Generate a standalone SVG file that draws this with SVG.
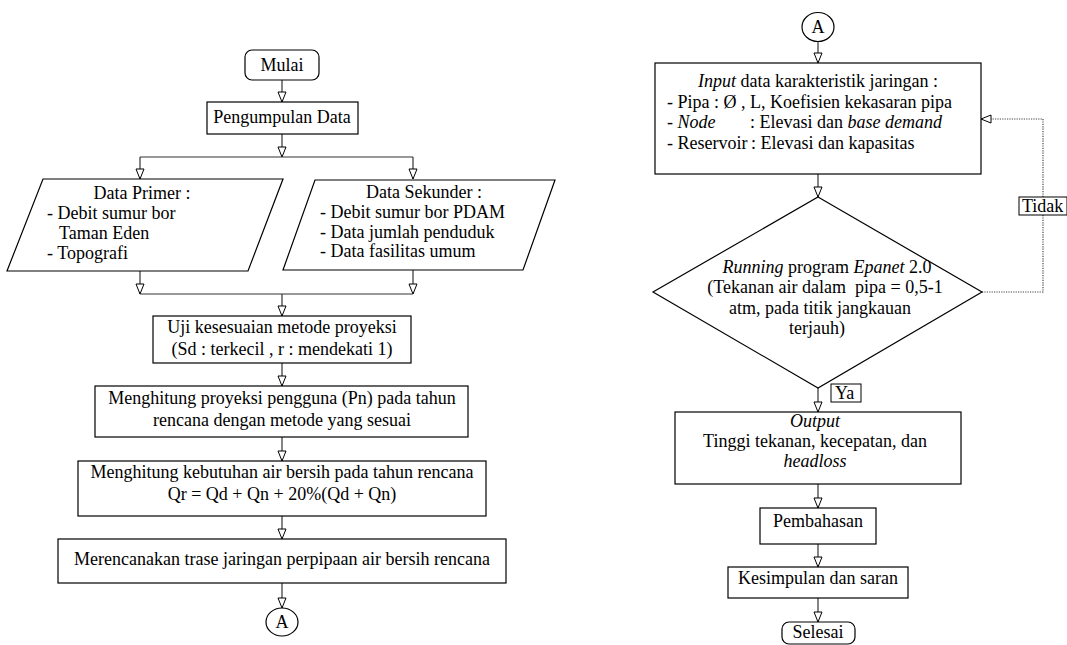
<svg xmlns="http://www.w3.org/2000/svg" width="1067" height="645" viewBox="0 0 1067 645" font-family="'Liberation Serif', Tinos, 'Times New Roman', Times, 'DejaVu Serif', serif">
<defs>
<marker id="ah" markerWidth="12" markerHeight="10" refX="10" refY="4" orient="auto" markerUnits="userSpaceOnUse" overflow="visible">
<path d="M0,0 L10,4 L0,8 z" fill="#fff" stroke="#000" stroke-width="1"/>
</marker>
</defs>
<style>
text{font-family:'Liberation Serif',Tinos,'Times New Roman',Times,'DejaVu Serif',serif;font-size:18px;fill:#000}
.c{text-anchor:middle}
.i{font-style:italic}
.box{fill:#fff;stroke:#000;stroke-width:1.2}
.ln{fill:none;stroke:#333;stroke-width:1.2}
.dot{fill:none;stroke:#444;stroke-width:1.2;stroke-dasharray:1.2,1.2}
.lbl{fill:#fff;stroke:#000;stroke-width:1}
</style>
<rect width="1067" height="645" fill="#fff"/>

<g id="connectors">
<path class="ln" d="M282,80 V102" marker-end="url(#ah)"/>
<path class="ln" d="M282,134 V157" marker-end="url(#ah)"/>
<path class="ln" d="M140,157 H413"/>
<path class="ln" d="M140,157 V179" marker-end="url(#ah)"/>
<path class="ln" d="M413,157 V179" marker-end="url(#ah)"/>
<path class="ln" d="M140,271 V294" marker-end="url(#ah)"/>
<path class="ln" d="M413,270 V294" marker-end="url(#ah)"/>
<path class="ln" d="M140,294 H413"/>
<path class="ln" d="M282,294 V316" marker-end="url(#ah)"/>
<path class="ln" d="M282,363 V386" marker-end="url(#ah)"/>
<path class="ln" d="M282,437 V461" marker-end="url(#ah)"/>
<path class="ln" d="M282,516 V539" marker-end="url(#ah)"/>
<path class="ln" d="M282,583 V608" marker-end="url(#ah)"/>
<path class="ln" d="M818,41 V63" marker-end="url(#ah)"/>
<path class="ln" d="M818,174 V197" marker-end="url(#ah)"/>
<path class="ln" d="M818,388 V412" marker-end="url(#ah)"/>
<path class="ln" d="M818,484 V508" marker-end="url(#ah)"/>
<path class="ln" d="M818,544 V567" marker-end="url(#ah)"/>
<path class="ln" d="M818,598 V622" marker-end="url(#ah)"/>
<path class="dot" d="M982,292 H1043 V119 H981" marker-end="url(#ah)"/>
<rect class="lbl" x="1019" y="197" width="48" height="18"/>
<text x="1022" y="212">Tidak</text>
<rect class="lbl" x="831" y="384" width="30" height="18"/>
<text x="835" y="399">Ya</text>
</g>

<g id="mulai">
<rect class="box" x="245" y="50" width="74" height="30" rx="7"/>
<text class="c" x="282" y="71">Mulai</text>
</g>
<g id="pengumpulan">
<rect class="box" x="207" y="102" width="151" height="32"/>
<text class="c" x="282" y="123">Pengumpulan Data</text>
</g>
<g id="data-primer">
<polygon class="box" points="43,179 283,179 248,271 7,271"/>
<text class="c" x="142" y="199">Data Primer :</text>
<text x="47" y="219">- Debit sumur bor</text>
<text x="59" y="239">Taman Eden</text>
<text x="47" y="259">- Topografi</text>
</g>
<g id="data-sekunder">
<polygon class="box" points="315,180 555,180 523,270 283,270"/>
<text class="c" x="424" y="198">Data Sekunder :</text>
<text x="320" y="218">- Debit sumur bor PDAM</text>
<text x="320" y="238">- Data jumlah penduduk</text>
<text x="320" y="257">- Data fasilitas umum</text>
</g>
<g id="uji">
<rect class="box" x="153" y="316" width="258" height="47"/>
<text class="c" x="282" y="333">Uji kesesuaian metode proyeksi</text>
<text class="c" x="282" y="355">(Sd : terkecil , r : mendekati 1)</text>
</g>
<g id="proyeksi">
<rect class="box" x="95" y="386" width="373" height="51"/>
<text class="c" x="282" y="404">Menghitung proyeksi pengguna (Pn) pada tahun</text>
<text class="c" x="282" y="426">rencana dengan metode yang sesuai</text>
</g>
<g id="kebutuhan">
<rect class="box" x="78" y="461" width="408" height="55"/>
<text class="c" x="282" y="478">Menghitung kebutuhan air bersih pada tahun rencana</text>
<text class="c" x="282" y="500">Qr = Qd + Qn + 20%(Qd + Qn)</text>
</g>
<g id="merencanakan">
<rect class="box" x="58" y="539" width="448" height="44"/>
<text class="c" x="282" y="565">Merencanakan trase jaringan perpipaan air bersih rencana</text>
</g>
<g id="connector-a1">
<ellipse class="box" cx="282" cy="622" rx="16" ry="14"/>
<text class="c" x="282" y="628">A</text>
</g>

<g id="connector-a2">
<ellipse class="box" cx="818" cy="27" rx="16" ry="14.5"/>
<text class="c" x="818" y="33">A</text>
</g>
<g id="input">
<rect class="box" x="655" y="63" width="326" height="111"/>
<text x="698" y="87"><tspan class="i">Input</tspan> data karakteristik jaringan :</text>
<text x="667" y="108">- Pipa : Ø , L, Koefisien kekasaran pipa</text>
<text x="667" y="128">- <tspan class="i">Node</tspan></text>
<text x="750" y="128">: Elevasi dan <tspan class="i">base demand</tspan></text>
<text x="667" y="149">- Reservoir</text>
<text x="751" y="149">: Elevasi dan kapasitas</text>
</g>
<g id="running">
<polygon class="box" points="818,197 982,292 818,388 653,292"/>
<text class="c" x="827" y="273"><tspan class="i">Running</tspan> program <tspan class="i">Epanet</tspan> 2.0</text>
<text class="c" x="825" y="293" xml:space="preserve">(Tekanan air dalam  pipa = 0,5-1</text>
<text class="c" x="820" y="314">atm, pada titik jangkauan</text>
<text class="c" x="817" y="334">terjauh)</text>
</g>
<g id="output">
<rect class="box" x="675" y="412" width="286" height="72"/>
<text class="c i" x="815" y="427">Output</text>
<text class="c" x="815" y="447">Tinggi tekanan, kecepatan, dan</text>
<text class="c i" x="815" y="467">headloss</text>
</g>
<g id="pembahasan">
<rect class="box" x="760" y="508" width="116" height="36"/>
<text class="c" x="818" y="527">Pembahasan</text>
</g>
<g id="kesimpulan">
<rect class="box" x="728" y="567" width="180" height="31"/>
<text class="c" x="818" y="584">Kesimpulan dan saran</text>
</g>
<g id="selesai">
<rect class="box" x="782" y="622" width="73" height="22" rx="7"/>
<text class="c" x="818" y="638">Selesai</text>
</g>
</svg>
